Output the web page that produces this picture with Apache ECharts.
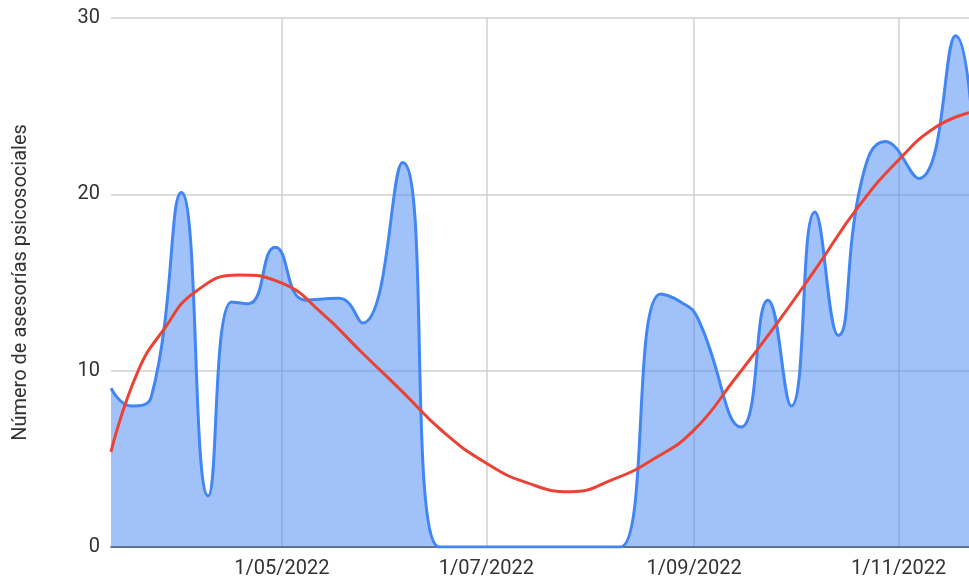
<!DOCTYPE html>
<html>
<head>
<meta charset="utf-8">
<script src="https://cdn.jsdelivr.net/npm/echarts@6/dist/echarts.min.js"></script>
<style>
  html, body { margin: 0; padding: 0; background: #fff; }
  #chart { width: 969px; height: 581px; }
</style>
</head>
<body>
<div id="chart"></div>
<script>
// asesorías por fecha
const fechas = [
  '2022-03-11', '2022-03-17', '2022-03-23', '2022-04-01', '2022-04-09',
  '2022-04-16', '2022-04-21', '2022-04-29', '2022-05-08', '2022-05-18',
  '2022-05-25', '2022-06-06', '2022-06-17', '2022-06-26', '2022-07-11',
  '2022-07-23', '2022-08-04', '2022-08-10', '2022-08-22', '2022-08-28',
  '2022-09-02', '2022-09-15', '2022-09-23', '2022-09-30', '2022-10-07',
  '2022-10-14', '2022-10-21', '2022-10-28', '2022-11-07', '2022-11-18',
  '2022-11-25'
];
const asesorias = [
  9.0, 8.0, 8.5, 20.1, 2.9,
  13.9, 13.8, 17.0, 14.0, 14.1,
  12.7, 21.8, 0, 0, 0,
  0, 0, 0, 14.35, 13.9,
  13.0, 6.8, 14.0, 8.0, 19.0,
  12.0, 20.8, 23.0, 20.9, 29.0,
  16.0
];

// línea de tendencia
const fechasTendencia = [
  '2022-03-11', '2022-03-19', '2022-03-27', '2022-04-05', '2022-04-18',
  '2022-05-01', '2022-05-13', '2022-05-25', '2022-06-06', '2022-06-18',
  '2022-07-01', '2022-07-13', '2022-07-26', '2022-08-08', '2022-08-20',
  '2022-09-01', '2022-09-13', '2022-09-25', '2022-10-07', '2022-10-20',
  '2022-11-01', '2022-11-12', '2022-11-22'
];
const tendencia = [
  5.4, 9.95, 12.4, 14.45, 15.43,
  14.96, 13.25, 11.0, 8.8, 6.55,
  4.75, 3.65, 3.14, 3.85, 5.0,
  6.64, 9.5, 12.5, 15.7, 19.3,
  21.95, 23.8, 24.63
];

const etiquetasX = ['2022-05-01', '2022-07-01', '2022-09-01', '2022-11-01'];
const rangoX = ['2022-03-11', '2022-11-22'];
const ticksY = [0, 10, 20, 30];

function ts(s) {
  const p = s.split('-').map(Number);
  return new Date(p[0], p[1] - 1, p[2]).getTime();
}

const chart = echarts.init(document.getElementById('chart'));

const option = {
  animation: false,
  grid: { left: 111, right: 0, top: 18, bottom: 34, containLabel: false },
  xAxis: {
    type: 'value',
    min: ts(rangoX[0]),
    max: ts(rangoX[1]),
    axisLine: { lineStyle: { color: '#444', width: 1.5 } },
    axisTick: { show: false, customValues: etiquetasX.map(ts) },
    axisLabel: {
      customValues: etiquetasX.map(ts),
      color: '#333',
      fontFamily: 'Roboto',
      fontSize: 20,
      margin: 12,
      formatter: function (v) {
        const d = new Date(v);
        return d.getDate() + '/' + String(d.getMonth() + 1).padStart(2, '0') + '/' + d.getFullYear();
      }
    },
    splitLine: { show: true, lineStyle: { color: '#d0d0d0', width: 1.5 } }
  },
  yAxis: {
    type: 'value',
    min: ticksY[0],
    max: ticksY[ticksY.length - 1],
    interval: 10,
    name: 'Número de asesorías psicosociales',
    nameLocation: 'middle',
    nameGap: 80,
    nameTextStyle: { color: '#333', fontFamily: 'Roboto', fontSize: 20 },
    axisLine: { show: false },
    axisTick: { show: false },
    axisLabel: { color: '#333', fontFamily: 'Roboto', fontSize: 20, margin: 11 },
    splitLine: { lineStyle: { color: '#d0d0d0', width: 1.5 } }
  },
  series: [
    {
      name: 'Asesorías',
      type: 'line',
      smooth: 0.5,
      showSymbol: false,
      data: fechas.map((f, i) => [ts(f), asesorias[i]]),
      lineStyle: { color: '#4285f4', width: 3 },
      areaStyle: { color: '#4285f4', opacity: 0.5 },
      z: 2
    },
    {
      name: 'Tendencia',
      type: 'line',
      smooth: 0.5,
      showSymbol: false,
      data: fechasTendencia.map((f, i) => [ts(f), tendencia[i]]),
      lineStyle: { color: '#ea4335', width: 3 },
      z: 3
    }
  ]
};

chart.setOption(option);
</script>
</body>
</html>
